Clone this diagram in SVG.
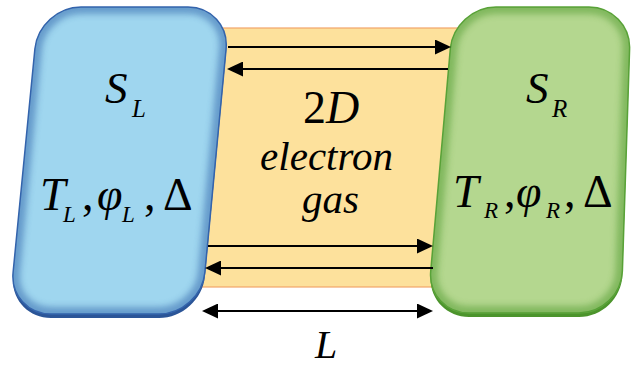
<svg xmlns="http://www.w3.org/2000/svg" xmlns:xlink="http://www.w3.org/1999/xlink" width="633" height="368" viewBox="0 0 633 368">
<style>
text{font-family:"Liberation Serif","Times New Roman","DejaVu Serif",serif;fill:#000}
.i{font-style:italic}
.big{font-size:46px}
.mid{font-size:41px}
.sub{font-size:23px}
.arr{stroke:#000;stroke-width:2;fill:none}
</style>
<defs>
<path id="blueShape" d="M34.9,48.8 C37.2,25.8 57.9,7 81,7 L188,7 C211.1,7 228.2,25.8 226.1,48.8 L204.9,272.2 C202.8,295.2 182.1,314 159,314 L51,314 C27.9,314 10.8,295.2 13.1,272.2 Z"/>
<path id="greenShape" d="M450.3,48.8 C452.3,25.8 472.9,7 496,7 L589,7 C612.1,7 630.4,25.9 629.6,49 L622.4,271 C621.6,294.1 602.1,313 579,313 L469,313 C445.9,313 428.7,294.2 430.7,271.2 Z"/>
<clipPath id="clipB"><use xlink:href="#blueShape"/></clipPath>
<clipPath id="clipG"><use xlink:href="#greenShape"/></clipPath>
<filter id="blur" x="-10%" y="-10%" width="120%" height="120%"><feGaussianBlur stdDeviation="3"/></filter>
<marker id="ah" markerWidth="16" markerHeight="15" refX="8" refY="7.5" orient="auto-start-reverse" markerUnits="userSpaceOnUse"><path d="M0,0 L16,7.5 L0,15 Z" fill="#000"/></marker>
</defs>

<g id="gas-band">
<rect x="190" y="28" width="270" height="259" fill="#fde19c" stroke="#f2a56a" stroke-width="1.2"/>
<text class="big" x="303" y="123">2<tspan class="i">D</tspan></text>
<text class="i mid" x="326.5" y="170" text-anchor="middle">electron</text>
<text class="i mid" x="330.5" y="213" text-anchor="middle">gas</text>
</g>

<g id="SL">
<use xlink:href="#blueShape" transform="translate(0,4)" fill="#2b5597"/>
<use xlink:href="#blueShape" fill="#9fd6ef" stroke="#3565ad" stroke-width="1.5"/>
<use xlink:href="#blueShape" fill="none" stroke="#2f62a8" stroke-width="14" opacity="0.5" filter="url(#blur)" clip-path="url(#clipB)"/>
<text class="i" x="105" y="103" font-size="45">S</text>
<text class="i" x="132" y="117" font-size="25">L</text>
<text class="i big" x="40" y="210">T</text>
<text class="i sub" x="63" y="222">L</text>
<text class="big" x="82" y="210">,</text>
<text class="i big" x="97" y="210">φ</text>
<text class="i sub" x="122" y="222">L</text>
<text class="big" x="144" y="210">,</text>
<text class="big" x="163" y="210">Δ</text>
</g>

<g id="SR">
<use xlink:href="#greenShape" transform="translate(0,4)" fill="#4c942c"/>
<use xlink:href="#greenShape" fill="#b4d78f" stroke="#5ca53b" stroke-width="1.5"/>
<use xlink:href="#greenShape" fill="none" stroke="#4f9a2e" stroke-width="14" opacity="0.5" filter="url(#blur)" clip-path="url(#clipG)"/>
<text class="i" x="526" y="103" font-size="45">S</text>
<text class="i" x="552" y="117" font-size="25">R</text>
<text class="i big" x="453" y="207">T</text>
<text class="i sub" x="484" y="218">R</text>
<text class="big" x="504" y="207">,</text>
<text class="i big" x="516" y="207">φ</text>
<text class="i sub" x="546" y="218">R</text>
<text class="big" x="564" y="207">,</text>
<text class="big" x="583" y="207">Δ</text>
</g>

<g id="connectors">
<line class="arr" x1="228" y1="47" x2="443" y2="47" marker-end="url(#ah)"/>
<line class="arr" x1="448" y1="69" x2="235" y2="69" marker-end="url(#ah)"/>
<line class="arr" x1="208" y1="246" x2="425" y2="246" marker-end="url(#ah)"/>
<line class="arr" x1="433" y1="268" x2="213" y2="268" marker-end="url(#ah)"/>
<line class="arr" x1="210" y1="311" x2="425" y2="311" marker-start="url(#ah)" marker-end="url(#ah)"/>
</g>

<text id="L-label" class="i" x="315" y="358" font-size="40">L</text>
</svg>
